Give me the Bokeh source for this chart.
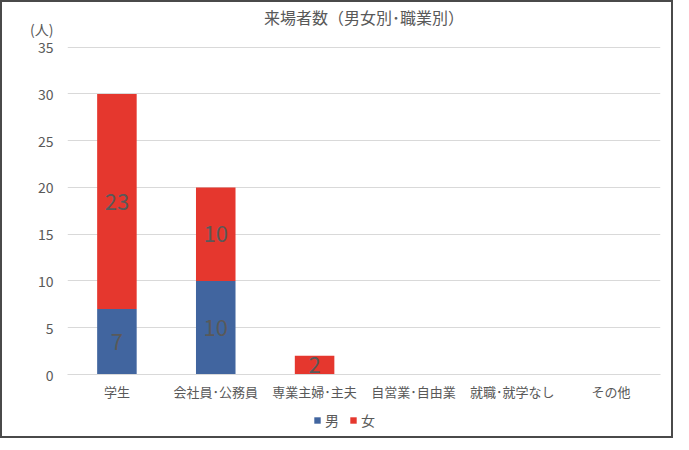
from bokeh.plotting import figure
from bokeh.models import ColumnDataSource, Legend, LegendItem, LabelSet, Title, FixedTicker
from bokeh.layouts import column
from bokeh.embed import file_html
from bokeh.resources import INLINE
from bokeh.core.properties import value

categories = ["学生", "会社員･公務員", "専業主婦･主夫", "自営業･自由業", "就職･就学なし", "その他"]
male = [7, 10, 0, 0, 0, 0]
female = [23, 10, 2, 0, 0, 0]
y_ticks = [0, 5, 10, 15, 20, 25, 30, 35]
series_names = ["男", "女"]
unit_text = "(人)"
unit_pos = 37

FONT = "Noto Sans CJK JP"
BLUE = "#41659F"
RED = "#E5372E"
TXT = "#595959"

src = ColumnDataSource(dict(cat=categories, male=male, female=female))

p = figure(x_range=categories, y_range=(0, unit_pos), frame_width=593, frame_height=346,
           output_backend="svg", toolbar_location=None, title=None,
           min_border_left=65, min_border_right=11, min_border_top=0, min_border_bottom=0)

r = p.vbar_stack(["male", "female"], x="cat", width=0.4, color=[BLUE, RED], source=src,
                 line_color=None)

# data labels
lab_x, lab_y, lab_t = [], [], []
for c, m, f in zip(categories, male, female):
    if m > 0:
        lab_x.append(c); lab_y.append(m / 2); lab_t.append(str(m))
    if f > 0:
        lab_x.append(c); lab_y.append(m + f / 2); lab_t.append(str(f))
lsrc = ColumnDataSource(dict(x=lab_x, y=lab_y, t=lab_t))
p.add_layout(LabelSet(x="x", y="y", text="t", source=lsrc, text_align="center",
                      text_baseline="middle", text_color=TXT, text_font_size="22px",
                      text_font=value(FONT)))

main_title = Title(text="来場者数（男女別･職業別）", align="center", offset=-27, standoff=0,
                   text_font=FONT, text_font_size="16px", text_font_style="normal",
                   text_color=TXT)
p.add_layout(main_title, "above")

p.yaxis.ticker = FixedTicker(ticks=y_ticks + [unit_pos])
p.yaxis.major_label_overrides = {unit_pos: unit_text}
p.yaxis.axis_line_color = None
p.yaxis.major_tick_line_color = None
p.yaxis.minor_tick_line_color = None
p.yaxis.major_tick_out = 0
p.yaxis.major_label_text_font = FONT
p.yaxis.major_label_text_font_size = "14px"
p.yaxis.major_label_text_color = TXT
p.yaxis.major_label_standoff = 14

p.xaxis.axis_line_color = "#D9D9D9"
p.xaxis.major_tick_line_color = None
p.xaxis.minor_tick_line_color = None
p.xaxis.major_tick_out = 0
p.xaxis.major_label_text_font = FONT
p.xaxis.major_label_text_font_size = "13px"
p.xaxis.major_label_text_color = TXT
p.xaxis.major_label_standoff = 7

p.xgrid.grid_line_color = None
p.ygrid.ticker = FixedTicker(ticks=y_ticks)
p.ygrid.grid_line_color = "#D9D9D9"
p.outline_line_color = None

# legend strip below the chart
lf = figure(width=669, height=33, x_range=(0, 1), y_range=(0, 1),
            output_backend="svg", toolbar_location=None, title=None,
            x_axis_type=None, y_axis_type=None, min_border=0,
            min_border_left=0, min_border_right=50)
lf.grid.grid_line_color = None
lf.outline_line_color = None
lr = [lf.vbar(x=[0.5], top=[0], bottom=[0], width=0.0, color=c, line_color=None)
      for c in (BLUE, RED)]
legend = Legend(items=[LegendItem(label=n, renderers=[g]) for n, g in zip(series_names, lr)],
                orientation="horizontal", location="center",
                label_text_font=FONT, label_text_font_size="14px", label_text_color=TXT,
                glyph_width=8, glyph_height=8, spacing=10, label_standoff=4,
                label_width=14, label_height=16,
                border_line_color=None, background_fill_alpha=0, padding=0, margin=0)
lf.add_layout(legend, "center")

layout = column(p, lf, spacing=0, styles={"border": "2px solid #4a4a4a"})

open("out.html", "w").write(file_html(layout, INLINE))
